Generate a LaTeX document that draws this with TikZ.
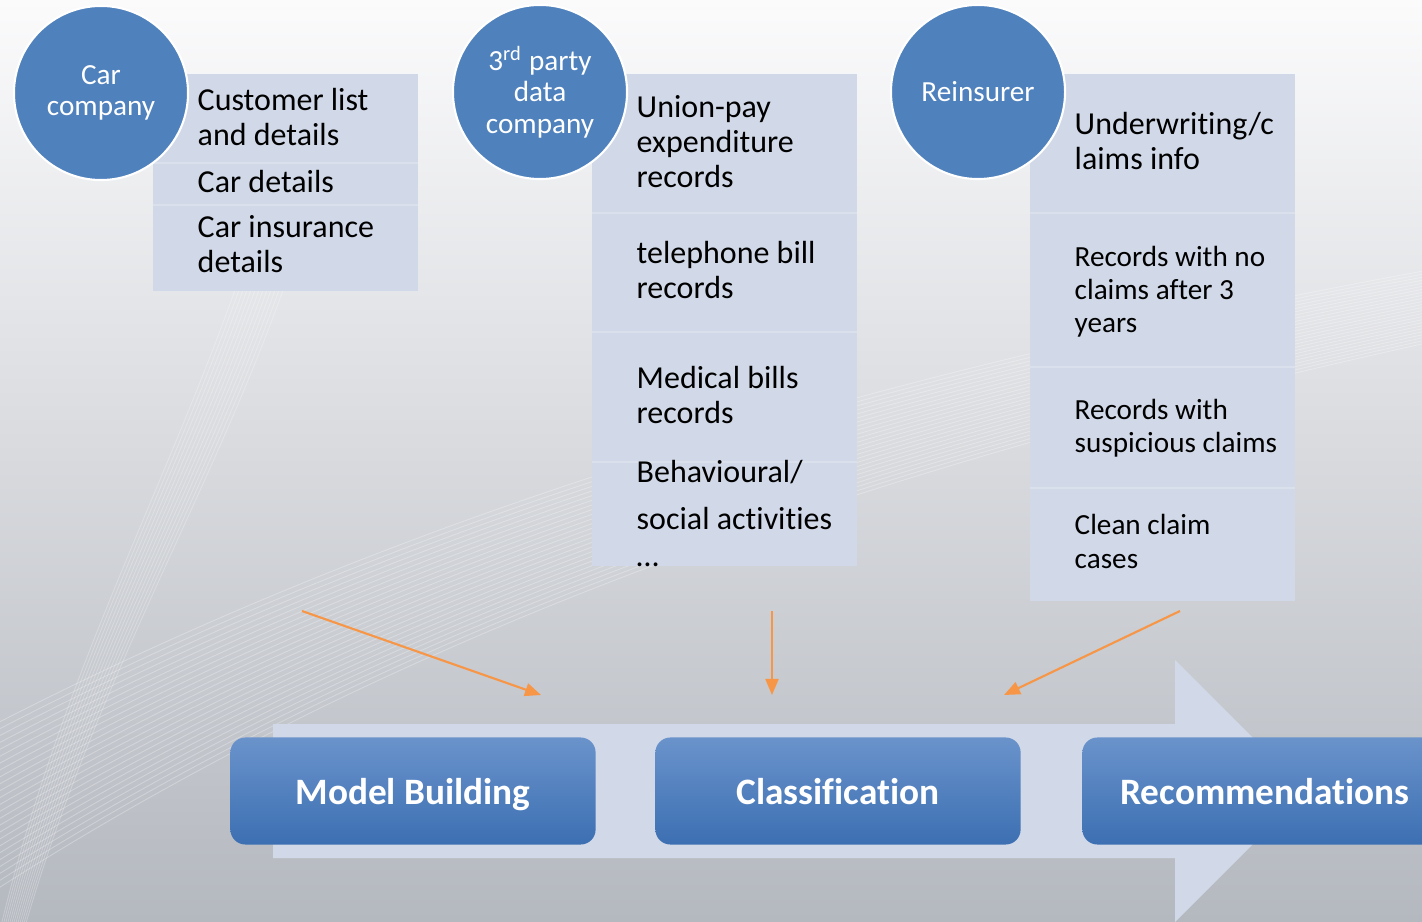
\documentclass[tikz,border=0pt]{standalone}
\usepackage{fontspec}
\setmainfont[Ligatures=NoCommon]{Carlito}
\usetikzlibrary{arrows.meta}

\definecolor{circleblue}{HTML}{4F81BD}
\definecolor{listfill}{HTML}{D1D9E8}
\definecolor{stagetop}{HTML}{6A93CB}
\definecolor{stagebottom}{HTML}{3C6FB2}
\definecolor{feedorange}{HTML}{F79646}
\definecolor{bgtop}{HTML}{FBFBFC}
\definecolor{bgbottom}{HTML}{B4B8BF}

\tikzset{
  source/.style={circle, fill=circleblue, draw=white, line width=0.6pt,
    minimum size=1.74cm, inner sep=0pt, text=white, align=center,
    font=\fontsize{8.3}{9}\selectfont},
  item/.style={anchor=base west, inner sep=0pt, align=left,
    font=\fontsize{9.1}{10}\selectfont},
  smallitem/.style={item, font=\fontsize{8.3}{9.4}\selectfont},
  stage/.style={rounded corners=0.15cm, top color=stagetop, bottom color=stagebottom,
    minimum width=3.65cm, minimum height=1.07cm, text=white, text depth=0pt,
    font=\fontsize{10.6}{12}\selectfont\bfseries},
  feed/.style={draw=feedorange, line width=0.6pt, -{Triangle[length=0.16cm, width=0.13cm]}},
  rowline/.style={draw=white, opacity=0.2, line width=0.5pt}
}

\begin{document}
\begin{tikzpicture}[x=0.01cm, y=-0.01cm]

    \useasboundingbox (0,0) rectangle (1422,922);
    \clip (0,0) rectangle (1422,922);

    % Background with a few light swooshes
    \shade[top color=bgtop, bottom color=bgbottom] (0,0) rectangle (1422,922);
    \foreach \k in {0,...,24}
        \draw[white, opacity=0.28, line width=0.25pt]
            (-20,900-\k*7) .. controls (350,660-\k*5) and (800,480-\k*4) .. (1440,340-\k*3);
    \foreach \k in {0,...,12}
        \draw[white, opacity=0.25, line width=0.25pt]
            (235+\k*4,290) .. controls (160+\k*4,500) and (60+\k*3,680) .. (0+\k*2,930);

    % Process arrow behind the stages
    \fill[listfill] (273,724) -- (1175,724) -- (1175,660) -- (1306,791)
        -- (1175,922) -- (1175,858) -- (273,858) -- cycle;

    % Data lists
    \fill[listfill] (153,74) rectangle (418,291);
    \fill[listfill] (592,74) rectangle (857,566);
    \fill[listfill] (1030,74) rectangle (1295,601);

    % Row separators
    \foreach \y in {163,205}   \draw[rowline] (153,\y) -- (418,\y);
    \foreach \y in {213,332,462} \draw[rowline] (592,\y) -- (857,\y);
    \foreach \y in {213,367,488} \draw[rowline] (1030,\y) -- (1295,\y);

    % Car company items (placed at the baseline of the last line)
    \node[item] (cust)    at (197,146) {Customer list\\and details};
    \node[item] (cardet)  at (197,193) {Car details};
    \node[item] (carins)  at (197,273) {Car insurance\\details};

    % Third party items
    \node[item] (union)   at (636,188) {Union-pay\\expenditure\\records};
    \node[item] (phone)   at (636,299) {telephone bill\\records};
    \node[item] (medical) at (636,424) {Medical bills\\records};
    \node[item] (behave)  at (636,482) {Behavioural/};
    \node[item] (social)  at (636,530) {social activities};
    \node[item] (more)    at (636,566) {\dots};

    % Reinsurer items
    \node[item]      (uw)      at (1074,170) {Underwriting/c\\laims info};
    \node[smallitem] (noclaim) at (1074,333) {Records with no\\claims after 3\\years};
    \node[smallitem] (suspect) at (1074,453) {Records with\\suspicious claims};
    \node[smallitem] (clean)   at (1074,568) {Clean claim\\cases};

    % Data sources
    \node[source] (car)   at (101,93) {Car\\company};
    \node[source] (third) at (540,92) {3\textsuperscript{rd} party\\data\\company};
    \node[source] (reins) at (978,92) {Reinsurer};

    % Stages
    \node[stage] (model)  at (413,791)  {Model Building};
    \node[stage] (class)  at (838,791)  {Classification};
    \node[stage] (recomm) at (1265,791) {Recommendations};

    % Feeds into the process
    \coordinate (car_out)    at (302,611);
    \coordinate (car_in)     at (541,695);
    \coordinate (third_out)  at (772,611);
    \coordinate (third_in)   at (772,695);
    \coordinate (reins_out)  at (1180,611);
    \coordinate (reins_in)   at (1004,695);
    \draw[feed] (car_out) -- (car_in);
    \draw[feed] (third_out) -- (third_in);
    \draw[feed] (reins_out) -- (reins_in);

\end{tikzpicture}
\end{document}
